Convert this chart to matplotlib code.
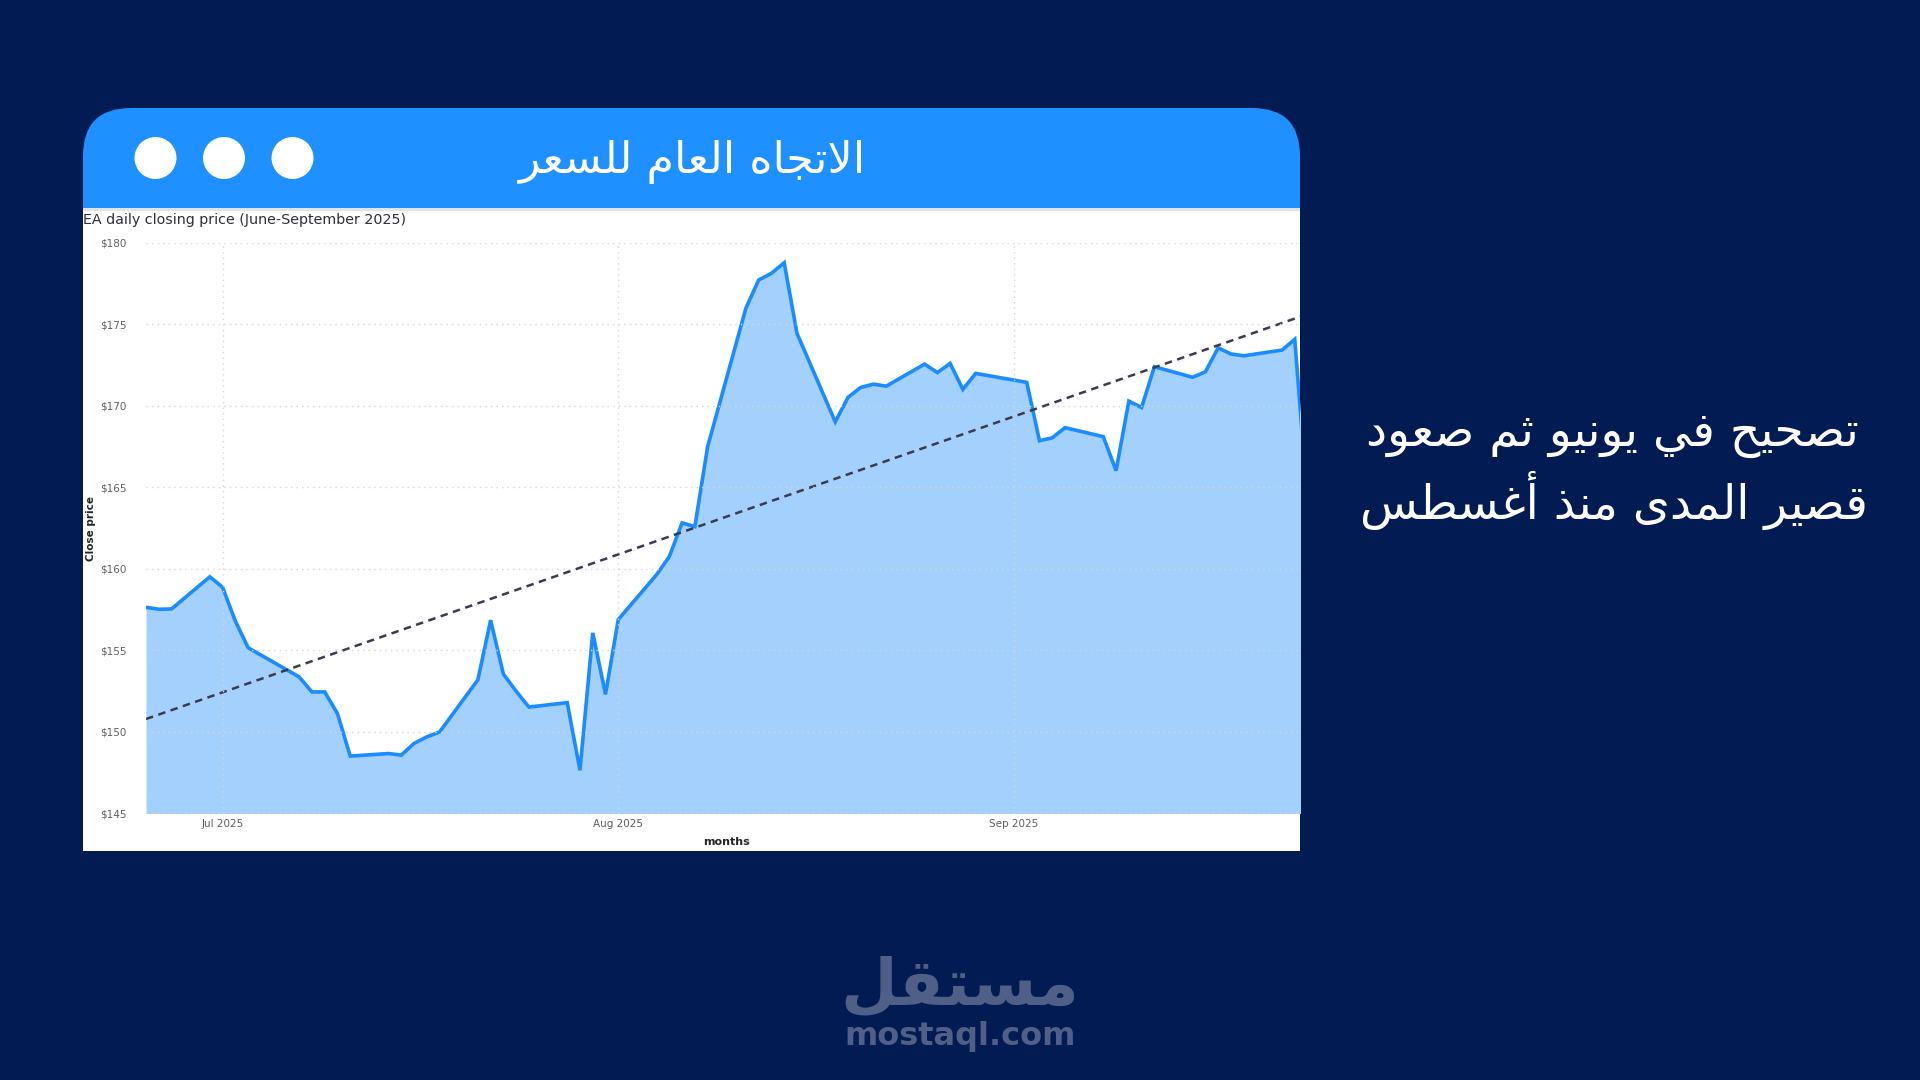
import numpy as np
import pandas as pd
import matplotlib
matplotlib.use('Agg')
import matplotlib.pyplot as plt
import matplotlib.dates as mdates
from matplotlib.patches import FancyBboxPatch, Rectangle, Circle

# data (daily close, trading days)
dates = ['2025-06-25', '2025-06-26', '2025-06-27', '2025-06-30', '2025-07-01', '2025-07-02',
         '2025-07-03', '2025-07-07', '2025-07-08', '2025-07-09', '2025-07-10', '2025-07-11',
         '2025-07-14', '2025-07-15', '2025-07-16', '2025-07-17', '2025-07-18', '2025-07-21',
         '2025-07-22', '2025-07-23', '2025-07-24', '2025-07-25', '2025-07-28', '2025-07-29',
         '2025-07-30', '2025-07-31', '2025-08-01', '2025-08-04', '2025-08-05', '2025-08-06',
         '2025-08-07', '2025-08-08', '2025-08-11', '2025-08-12', '2025-08-13', '2025-08-14',
         '2025-08-15', '2025-08-18', '2025-08-19', '2025-08-20', '2025-08-21', '2025-08-22',
         '2025-08-25', '2025-08-26', '2025-08-27', '2025-08-28', '2025-08-29', '2025-09-02',
         '2025-09-03', '2025-09-04', '2025-09-05', '2025-09-08', '2025-09-09', '2025-09-10',
         '2025-09-11', '2025-09-12', '2025-09-15', '2025-09-16', '2025-09-17', '2025-09-18',
         '2025-09-19', '2025-09-22', '2025-09-23', '2025-09-24']
close = [157.65, 157.53, 157.55, 159.52, 158.88, 156.80,
         155.17, 153.38, 152.46, 152.46, 151.13, 148.52,
         148.68, 148.58, 149.30, 149.70, 150.00, 153.20,
         156.86, 153.55, 152.50, 151.53, 151.80, 147.65,
         156.08, 152.31, 156.90, 159.65, 160.76, 162.83,
         162.60, 167.50, 176.00, 177.73, 178.14, 178.79,
         174.46, 169.03, 170.53, 171.14, 171.34, 171.22,
         172.57, 172.05, 172.61, 171.02, 172.00, 171.45,
         167.87, 168.05, 168.67, 168.12, 166.03, 170.30,
         169.91, 172.41, 171.76, 172.10, 173.57, 173.19,
         173.08, 173.43, 174.09, 164.00]
y_ticks = [145, 150, 155, 160, 165, 170, 175, 180]
x_ticks = ['2025-07-01', '2025-08-01', '2025-09-01']
x_tick_labels = ['Jul 2025', 'Aug 2025', 'Sep 2025']

header_title = 'الاتجاه العام للسعر'
side_text = ['تصحيح في يونيو ثم صعود', 'قصير المدى منذ أغسطس']
chart_title = 'EA daily closing price (June-September 2025)'

# matplotlib has no arabic shaping -> pick presentation forms by hand
FORMS = {
    'ا': (0xFE8D, 0xFE8E, None, None), 'أ': (0xFE83, 0xFE84, None, None),
    'ب': (0xFE8F, 0xFE90, 0xFE91, 0xFE92), 'ت': (0xFE95, 0xFE96, 0xFE97, 0xFE98),
    'ث': (0xFE99, 0xFE9A, 0xFE9B, 0xFE9C), 'ج': (0xFE9D, 0xFE9E, 0xFE9F, 0xFEA0),
    'ح': (0xFEA1, 0xFEA2, 0xFEA3, 0xFEA4), 'د': (0xFEA9, 0xFEAA, None, None),
    'ذ': (0xFEAB, 0xFEAC, None, None), 'ر': (0xFEAD, 0xFEAE, None, None),
    'س': (0xFEB1, 0xFEB2, 0xFEB3, 0xFEB4), 'ص': (0xFEB9, 0xFEBA, 0xFEBB, 0xFEBC),
    'ط': (0xFEC1, 0xFEC2, 0xFEC3, 0xFEC4), 'ع': (0xFEC9, 0xFECA, 0xFECB, 0xFECC),
    'غ': (0xFECD, 0xFECE, 0xFECF, 0xFED0), 'ف': (0xFED1, 0xFED2, 0xFED3, 0xFED4),
    'ق': (0xFED5, 0xFED6, 0xFED7, 0xFED8), 'ل': (0xFEDD, 0xFEDE, 0xFEDF, 0xFEE0),
    'م': (0xFEE1, 0xFEE2, 0xFEE3, 0xFEE4), 'ن': (0xFEE5, 0xFEE6, 0xFEE7, 0xFEE8),
    'ه': (0xFEE9, 0xFEEA, 0xFEEB, 0xFEEC), 'و': (0xFEED, 0xFEEE, None, None),
    'ى': (0xFEEF, 0xFEF0, None, None), 'ي': (0xFEF1, 0xFEF2, 0xFEF3, 0xFEF4),
}
LAM_ALEF = {'ا': (0xFEFB, 0xFEFC), 'أ': (0xFEF7, 0xFEF8)}


def shape(text):
    words = []
    for w in text.split(' '):
        chars = []
        i = 0
        while i < len(w):
            if w[i] == 'ل' and i + 1 < len(w) and w[i + 1] in LAM_ALEF:
                chars.append('LA' + w[i + 1])
                i += 2
            else:
                chars.append(w[i])
                i += 1
        res = ''
        for k, c in enumerate(chars):
            prev = chars[k - 1] if k > 0 else None
            jp = prev is not None and not prev.startswith('LA') and FORMS[prev][2] is not None
            if c.startswith('LA'):
                iso, fin = LAM_ALEF[c[2]]
                res += chr(fin if jp else iso)
                continue
            f = FORMS[c]
            jn = f[2] is not None and k + 1 < len(chars)
            if jp and jn:
                g = f[3]
            elif jp:
                g = f[1]
            elif jn:
                g = f[2]
            else:
                g = f[0]
            res += chr(g)
        words.append(res)
    return ' '.join(words)[::-1]


navy = '#021c53'
blue = '#1e90ff'

fig = plt.figure(figsize=(19.2, 10.8), dpi=100, facecolor=navy)

# background / card drawn in pixel coordinates
bg = fig.add_axes([0, 0, 1, 1], zorder=0)
bg.set_xlim(0, 1920)
bg.set_ylim(1080, 0)
bg.axis('off')

bg.add_patch(FancyBboxPatch((83, 108), 1217, 200, boxstyle='round,pad=0,rounding_size=48',
                            facecolor=blue, edgecolor='none'))
bg.add_patch(Rectangle((83, 208), 1217, 643, facecolor='white', edgecolor='none'))
bg.add_patch(Rectangle((83, 208), 1217, 3, facecolor='#e3e3e3', edgecolor='none'))
for cx in [155.5, 224, 292.5]:
    bg.add_patch(Circle((cx, 158), 21, facecolor='white', edgecolor='none'))

bg.text(692, 162, shape(header_title), color='white', fontsize=32,
        family='DejaVu Sans', ha='center', va='center')
bg.text(83, 220, chart_title, color='#2e2e3a', fontsize=10.3, ha='left', va='center')

bg.text(1612, 435, shape(side_text[0]), color='white', fontsize=34,
        family='DejaVu Sans', ha='center', va='center')
bg.text(1614, 500, shape(side_text[1]), color='white', fontsize=34,
        family='DejaVu Sans', ha='center', va='center')

# mostaql logo
bg.text(960, 986, shape('مستقل'), color='#505f87', fontsize=47, fontweight='bold',
        family='DejaVu Sans', ha='center', va='center')
bg.text(960, 1037, 'mostaql.com', color='#505f87', fontsize=23, fontweight='bold',
        ha='center', va='center')

# chart
d = pd.to_datetime(dates)
xn = mdates.date2num(d)

ax = fig.add_axes([146 / 1920, 1 - 813.5 / 1080, (1300 - 146) / 1920, (813.5 - 243) / 1080],
                  zorder=1)
ax.set_facecolor('white')
ax.fill_between(xn, close, 145, color='#a3d0fd', lw=0)
ax.plot(xn, close, color='#1a8cff', lw=2.6, solid_joinstyle='miter')

fit = np.polyfit(xn, close, 1)
tx = np.array([xn[0], xn[-1]])
ax.plot(tx, np.polyval(fit, tx), color='#3b3b4f', lw=1.8, linestyle=(0, (3, 2.2)))

ax.set_ylim(145, 180)
ax.set_xlim(xn[0], xn[-1] - 0.59)
ax.set_yticks(y_ticks)
ax.set_yticklabels([f'${v}' for v in y_ticks])
ax.set_xticks(mdates.date2num(pd.to_datetime(x_ticks)))
ax.set_xticklabels(x_tick_labels)
ax.tick_params(length=0, labelsize=7.5, labelcolor='#605e5c')
ax.tick_params(axis='y', pad=14)
ax.tick_params(axis='x', pad=4)
ax.grid(True, color='#d6d6d6', linestyle=(0, (1, 3)), lw=1)
ax.set_axisbelow(False)
for s in ax.spines.values():
    s.set_visible(False)

ax.set_ylabel('Close price', fontsize=7.5, fontweight='bold', color='#252423')
ax.yaxis.set_label_coords(-0.043, 0.5)
ax.set_xlabel('months', fontsize=8, fontweight='bold', color='#252423')
ax.xaxis.set_label_coords(0.503, -0.041)

fig.savefig('out.png', dpi=100, facecolor=navy)
